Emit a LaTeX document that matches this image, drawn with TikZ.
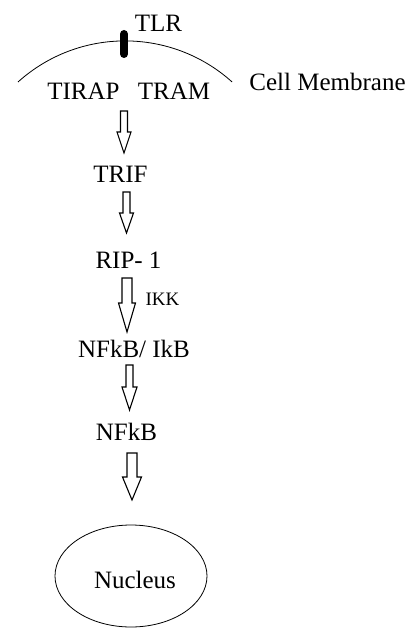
\documentclass[tikz,border=0pt]{standalone}
\usepackage{fontspec}
\setmainfont{Liberation Serif}
\usetikzlibrary{calc,shapes.geometric}

% hollow block arrow: #1 tail coordinate, #2 tip coordinate,
% #3 head length, #4 shaft half width, #5 head half width
\newcommand\blockarrow[5]{%
  \draw[blockline]
    ($(#1)+(-#4,0)$) -- ($(#1)+(#4,0)$) --
    ($(#2)+(#4,-#3)$) -- ($(#2)+(#5,-#3)$) -- (#2) --
    ($(#2)+(-#5,-#3)$) -- ($(#2)+(-#4,-#3)$) -- cycle;}

\begin{document}
\begin{tikzpicture}[x=1pt,y=-1pt,
  lbl/.style={inner sep=0pt,anchor=base,font=\fontsize{25}{29}\selectfont},
  smalllbl/.style={inner sep=0pt,anchor=base,font=\fontsize{19}{22}\selectfont},
  blockline/.style={draw=black,line width=1.1pt,fill=white,line join=miter},
  membrane/.style={draw=black,line width=0.8pt},
  receptor/.style={line width=8pt,line cap=round}]
\useasboundingbox (0,0) rectangle (419,628);

% cell membrane and the receptor crossing it
\draw[membrane] (18,82) arc[start angle=-132,end angle=-48,radius=160];
\draw[receptor] (124,34) -- (124,54);

% labels
\node[lbl] (tlr) at (158.5,32) {TLR};
\node[lbl] (tirap) at (83.5,100) {TIRAP};
\node[lbl] (tram) at (174,100) {TRAM};
\node[lbl] (membr) at (327.5,91) {Cell Membrane};
\node[lbl] (trif) at (120.5,183) {TRIF};
\node[lbl] (rip) at (128.5,268) {RIP- 1};
\node[smalllbl] (ikk) at (162.5,305) {IKK};
\node[lbl] (nfikb) at (134,357) {NFkB/ IkB};
\node[lbl] (nfkb) at (126.5,440) {NFkB};

% nucleus outline and its label
\node[draw,line width=0.8pt,ellipse,minimum width=152pt,minimum height=102pt,
      inner sep=0pt] (nucleus) at (131,576) {};
\node[lbl] (nuclbl) at (135,588) {Nucleus};

% signalling steps
\coordinate (a1t) at (124,111);   \coordinate (a1h) at (124,153);
\coordinate (a2t) at (126.5,192); \coordinate (a2h) at (126.5,233);
\coordinate (a3t) at (127,278);   \coordinate (a3h) at (127,332);
\coordinate (a4t) at (129.5,365); \coordinate (a4h) at (129.5,410);
\coordinate (a5t) at (132,453);   \coordinate (a5h) at (132,500);

\blockarrow{a1t}{a1h}{21}{3.5}{7}
\blockarrow{a2t}{a2h}{20}{3.5}{7}
\blockarrow{a3t}{a3h}{29}{5}{8.5}
\blockarrow{a4t}{a4h}{23}{3.5}{7.5}
\blockarrow{a5t}{a5h}{23}{5}{9.5}
\end{tikzpicture}
\end{document}
